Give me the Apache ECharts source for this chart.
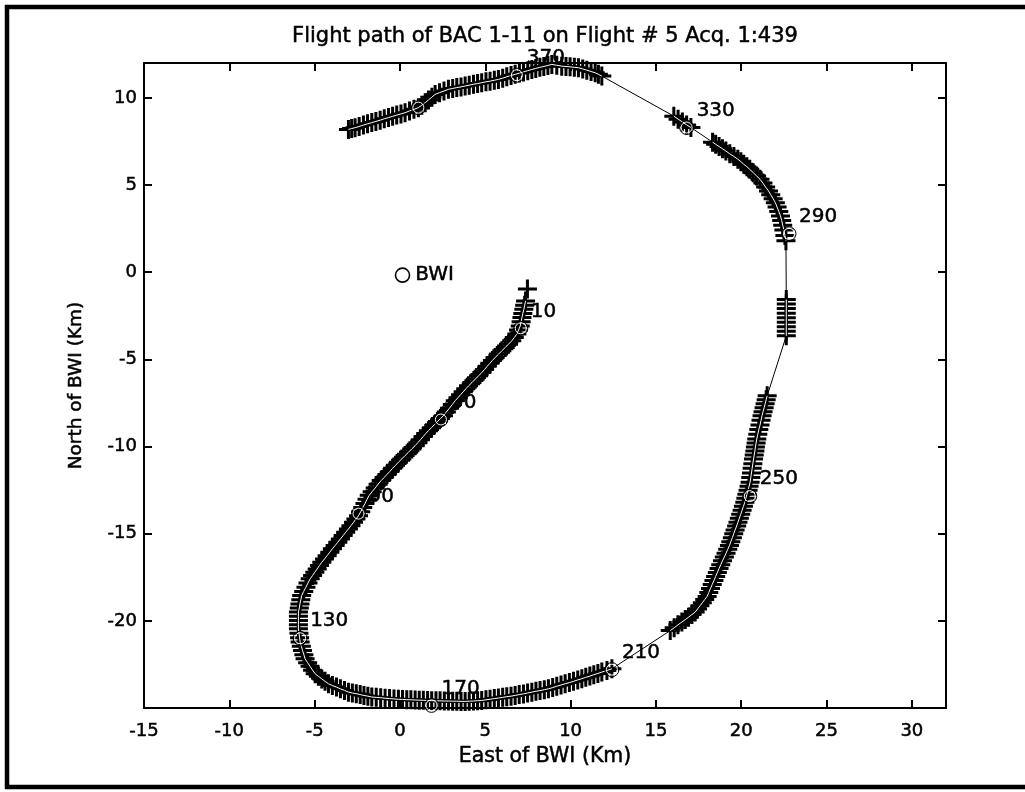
<!DOCTYPE html>
<html>
<head>
<meta charset="utf-8">
<script src="https://cdn.jsdelivr.net/npm/echarts/dist/echarts.min.js"></script>
<style>
  html, body { margin: 0; padding: 0; background: #fff; }
  #chart { width: 1025px; height: 792px; }
</style>
</head>
<body>
<div id="chart"></div>
<script>
// Aircraft track, [east km, north km] relative to BWI, in acquisition order
const track = [
  [7.47,-0.97],
  [7.36,-1.65],[7.31,-1.89],[7.26,-2.13],[7.20,-2.37],[7.15,-2.60],[7.10,-2.84],[7.05,-3.08],
  [6.95,-3.32],[6.85,-3.55],[6.70,-3.75],[6.55,-3.94],[6.36,-4.13],[6.17,-4.32],
  [5.97,-4.51],[5.78,-4.70],[5.58,-4.89],[5.42,-5.06],[5.27,-5.23],[5.11,-5.40],[4.96,-5.58],[4.80,-5.75],
  [4.61,-5.94],[4.41,-6.14],[4.22,-6.33],[4.02,-6.52],[3.86,-6.69],[3.71,-6.86],[3.55,-7.03],[3.40,-7.20],[3.24,-7.37],
  [3.07,-7.59],[2.90,-7.80],[2.72,-8.02],[2.55,-8.23],[2.37,-8.40],[2.20,-8.57],[2.02,-8.75],[1.85,-8.92],[1.67,-9.09],
  [1.51,-9.26],[1.36,-9.43],[1.20,-9.61],[1.05,-9.78],[0.89,-9.95],[0.69,-10.14],[0.50,-10.33],[0.30,-10.52],[0.11,-10.71],[-0.09,-10.90],
  [-0.26,-11.08],[-0.43,-11.25],[-0.59,-11.43],[-0.76,-11.60],[-0.93,-11.78],[-1.10,-11.95],
  [-1.28,-12.16],[-1.45,-12.38],[-1.63,-12.59],[-1.80,-12.80],
  [-1.93,-13.03],[-2.05,-13.27],[-2.18,-13.50],[-2.30,-13.74],[-2.43,-13.97],
  [-2.58,-14.16],[-2.72,-14.35],[-2.87,-14.54],[-3.02,-14.73],
  [-3.18,-14.92],[-3.33,-15.11],[-3.49,-15.30],[-3.64,-15.49],[-3.80,-15.68],
  [-3.96,-15.87],[-4.11,-16.06],[-4.27,-16.26],[-4.42,-16.45],[-4.58,-16.64],
  [-4.72,-16.83],[-4.85,-17.02],[-4.99,-17.21],[-5.12,-17.40],[-5.26,-17.59],
  [-5.39,-17.83],[-5.51,-18.07],[-5.64,-18.31],[-5.76,-18.55],
  [-5.81,-18.79],[-5.86,-19.03],[-5.90,-19.26],[-5.95,-19.50],
  [-5.95,-19.74],[-5.95,-19.98],[-5.95,-20.22],[-5.95,-20.46],
  [-5.92,-20.71],[-5.88,-20.97],[-5.85,-21.22],
  [-5.78,-21.46],[-5.71,-21.70],[-5.63,-21.94],[-5.56,-22.18],
  [-5.41,-22.40],[-5.27,-22.61],[-5.12,-22.83],[-4.97,-23.04],
  [-4.78,-23.18],[-4.58,-23.33],[-4.39,-23.47],[-4.19,-23.61],
  [-3.96,-23.71],[-3.72,-23.80],[-3.49,-23.90],[-3.25,-23.99],[-3.02,-24.09],
  [-2.79,-24.14],[-2.56,-24.18],[-2.33,-24.23],[-2.11,-24.28],[-1.88,-24.32],[-1.65,-24.37],
  [-1.39,-24.39],[-1.13,-24.41],[-0.87,-24.44],[-0.61,-24.46],[-0.35,-24.48],[-0.09,-24.50],
  [0.15,-24.51],[0.40,-24.52],[0.64,-24.53],[0.89,-24.54],[1.13,-24.55],[1.37,-24.56],[1.62,-24.57],[1.86,-24.58],
  [2.11,-24.59],[2.35,-24.59],[2.60,-24.60],[2.84,-24.60],[3.09,-24.61],[3.33,-24.61],[3.58,-24.62],[3.82,-24.62],
  [4.06,-24.61],[4.31,-24.60],[4.55,-24.58],[4.79,-24.57],
  [5.04,-24.53],[5.28,-24.50],[5.53,-24.46],[5.77,-24.43],[6.02,-24.39],[6.26,-24.35],[6.51,-24.32],[6.75,-24.28],
  [6.99,-24.23],[7.24,-24.19],[7.48,-24.14],[7.73,-24.09],[7.97,-24.04],[8.21,-24.00],[8.46,-23.95],[8.70,-23.90],
  [8.95,-23.83],[9.19,-23.75],[9.44,-23.68],[9.68,-23.61],[9.93,-23.54],[10.17,-23.47],[10.42,-23.39],[10.66,-23.32],
  [10.89,-23.24],[11.13,-23.17],[11.36,-23.09],[11.60,-23.02],[11.83,-22.94],[12.13,-22.85],[12.42,-22.75],
  [15.84,-20.56],[16.07,-20.40],[16.29,-20.23],[16.52,-20.07],
  [16.72,-19.93],[16.91,-19.79],[17.11,-19.64],[17.30,-19.50],
  [17.44,-19.32],[17.58,-19.14],[17.72,-18.96],[17.86,-18.78],[18.00,-18.60],
  [18.10,-18.37],[18.20,-18.14],[18.30,-17.91],[18.40,-17.69],[18.50,-17.46],[18.60,-17.23],[18.70,-17.00],
  [18.80,-16.78],[18.90,-16.56],[19.01,-16.34],[19.11,-16.12],[19.21,-15.90],[19.31,-15.68],
  [19.39,-15.46],[19.48,-15.23],[19.56,-15.01],[19.64,-14.79],[19.73,-14.56],[19.81,-14.34],
  [19.89,-14.11],[19.97,-13.89],[20.05,-13.66],[20.13,-13.43],[20.21,-13.20],
  [20.27,-12.97],[20.33,-12.74],[20.40,-12.51],[20.46,-12.28],[20.52,-12.05],
  [20.56,-11.78],[20.60,-11.52],[20.64,-11.25],[20.68,-10.99],[20.72,-10.72],
  [20.76,-10.49],[20.80,-10.26],[20.83,-10.03],[20.87,-9.80],[20.91,-9.57],
  [20.97,-9.30],[21.03,-9.03],[21.10,-8.77],[21.16,-8.50],[21.22,-8.23],
  [21.28,-8.00],[21.34,-7.78],[21.40,-7.55],[21.46,-7.32],[21.52,-7.09],
  [22.64,-3.65],[22.64,-3.39],[22.64,-3.13],[22.64,-2.87],[22.64,-2.61],[22.64,-2.35],[22.64,-2.09],[22.64,-1.83],[22.64,-1.57],
  [22.62,1.80],[22.56,2.10],[22.50,2.42],
  [22.43,2.69],[22.37,2.96],[22.30,3.23],[22.20,3.48],[22.10,3.74],[22.00,3.99],
  [21.87,4.21],[21.73,4.44],[21.60,4.66],[21.43,4.88],[21.27,5.11],[21.10,5.33],
  [20.90,5.52],[20.70,5.71],[20.50,5.90],[20.33,6.05],[20.15,6.19],[19.98,6.34],[19.80,6.48],
  [19.57,6.64],[19.33,6.79],[19.10,6.95],[18.90,7.08],[18.70,7.21],[18.50,7.34],[18.32,7.46],
  [17.05,8.30],[16.80,8.45],[16.55,8.62],[16.30,8.78],[16.05,8.95],
  [11.83,11.25],[11.63,11.35],[11.44,11.44],[11.20,11.51],[10.95,11.59],[10.71,11.66],[10.46,11.73],
  [10.22,11.75],[9.97,11.78],[9.73,11.80],[9.48,11.82],[9.19,11.87],[8.90,11.92],
  [8.67,11.86],[8.43,11.80],[8.20,11.75],[7.96,11.69],[7.73,11.63],
  [7.49,11.56],[7.24,11.49],[7.00,11.42],[6.75,11.35],
  [6.51,11.28],[6.26,11.21],[6.02,11.13],[5.77,11.06],
  [5.53,11.01],[5.28,10.96],[5.04,10.92],[4.79,10.87],
  [4.55,10.82],[4.31,10.78],[4.06,10.73],[3.82,10.68],
  [3.58,10.63],[3.33,10.59],[3.09,10.54],[2.84,10.49],
  [2.58,10.39],[2.32,10.30],[2.06,10.20],[1.87,10.04],[1.67,9.88],[1.48,9.72],[1.28,9.58],[1.08,9.44],
  [0.82,9.34],[0.56,9.25],[0.30,9.15],[0.06,9.08],[-0.19,9.01],[-0.43,8.94],[-0.67,8.87],
  [-0.92,8.80],[-1.16,8.72],[-1.41,8.65],[-1.65,8.58],[-1.90,8.51],[-2.14,8.44],[-2.39,8.36],[-2.63,8.29],[-2.83,8.24],[-3.02,8.19]
];

// Every 40th acquisition, ringed and numbered along the track
const markIndex = [10, 50, 90, 130, 170, 210, 250, 290, 330, 370, 410];
const markEast  = [7.08, 2.40, -2.43, -5.85, 1.85, 12.42, 20.50, 22.80, 16.80, 6.85, 1.08];
const markNorth = [-3.22, -8.45, -13.85, -21.00, -24.85, -22.80, -12.85, 2.20, 8.30, 11.30, 9.44];
const markLabelled = [true, true, true, true, true, true, true, true, true, true, false];

// Reference station
const station = { name: 'BWI', east: 0.15, north: -0.17 };

// Axis extents and tick spacing (km)
const eastRange = [-15, 32];
const northRange = [-25, 12];
const tickStep = 5;

const titleText = 'Flight path of BAC 1-11 on Flight # 5 Acq. 1:439';
const eastName = 'East of BWI (Km)';
const northName = 'North of BWI (Km)';

const FONT = 'DejaVu Sans';
// plus-shaped marker, arms about 3 px thick at the chosen size
const plusSymbol = 'path://M-1.5,-9.5H1.5V-1.5H9.5V1.5H1.5V9.5H-1.5V1.5H-9.5V-1.5H-1.5Z';

// Split the track into continuous stretches (breaks where samples are far apart)
const runs = [];
let cur = [track[0]];
for (let i = 1; i < track.length; i++) {
  const dx = track[i][0] - track[i - 1][0];
  const dy = track[i][1] - track[i - 1][1];
  if (Math.hypot(dx, dy) > 0.6) { runs.push(cur); cur = []; }
  cur.push(track[i]);
}
runs.push(cur);

const markData = markIndex.map((k, i) => ({
  value: [markEast[i], markNorth[i]],
  name: String(k),
  label: { show: markLabelled[i] }
}));

const inkText = { color: '#000', fontFamily: FONT, textBorderColor: '#000', textBorderWidth: 0.5 };

const axisCommon = {
  type: 'value',
  interval: tickStep,
  splitLine: { show: false },
  axisLine: { onZero: false, lineStyle: { color: '#000', width: 2 } },
  axisTick: { inside: true, length: 8, lineStyle: { color: '#000', width: 2 } }
};

const chart = echarts.init(document.getElementById('chart'), null, { renderer: 'canvas' });

const series = [
  // connecting line
  {
    type: 'line', data: track, symbol: 'none', z: 2, silent: true,
    lineStyle: { color: '#000', width: 1, opacity: 1 }
  },
  // one plus per acquisition
  {
    type: 'scatter', data: track, symbol: plusSymbol, symbolSize: 19, z: 3, silent: true,
    itemStyle: { color: '#000', opacity: 1 }
  }
];
runs.forEach(r => {
  if (r.length > 1) {
    series.push({
      type: 'line', data: r, symbol: 'none', z: 4, silent: true,
      lineStyle: { color: '#fff', width: 1, opacity: 1 }
    });
  }
});
series.push(
  // index numbers (sit under the plus marks)
  {
    type: 'scatter', data: markData, symbol: 'circle', symbolSize: 13, z: 1, silent: true,
    itemStyle: { color: 'rgba(0,0,0,0)', opacity: 1 },
    label: Object.assign({
      show: true, formatter: p => p.name, position: [16.5, -10.5],
      align: 'left', verticalAlign: 'middle', fontSize: 20
    }, inkText)
  },
  // index rings
  {
    type: 'scatter', data: markData.map(d => d.value), symbol: 'circle', symbolSize: 11, z: 5, silent: true,
    itemStyle: { color: 'rgba(0,0,0,0)', borderColor: '#fff', borderWidth: 1, opacity: 1 }
  },
  {
    type: 'scatter', data: markData.map(d => d.value), symbol: 'circle', symbolSize: 14, z: 5, silent: true,
    itemStyle: { color: 'rgba(0,0,0,0)', borderColor: '#000', borderWidth: 1, opacity: 1 }
  },
  // station
  {
    type: 'scatter', data: [{ value: [station.east, station.north], name: station.name }],
    symbol: 'circle', symbolSize: 14, z: 5, silent: true,
    itemStyle: { color: 'rgba(0,0,0,0)', borderColor: '#000', borderWidth: 1.6, opacity: 1 },
    label: Object.assign({
      show: true, position: 'right', distance: 5, formatter: p => p.name, fontSize: 20
    }, inkText)
  }
);

chart.setOption({
  animation: false,
  backgroundColor: '#fff',
  grid: { left: 144, right: 79, top: 63, bottom: 84 },
  xAxis: [
    Object.assign({}, axisCommon, {
      position: 'bottom', min: eastRange[0], max: eastRange[1],
      axisLabel: Object.assign({ margin: 14, showMaxLabel: false, fontSize: 18 }, inkText),
      name: eastName, nameLocation: 'middle', nameGap: 38,
      nameTextStyle: Object.assign({ fontSize: 20.5 }, inkText)
    }),
    Object.assign({}, axisCommon, {
      position: 'top', min: eastRange[0], max: eastRange[1],
      axisLabel: { show: false }
    })
  ],
  yAxis: [
    Object.assign({}, axisCommon, {
      position: 'left', min: northRange[0], max: northRange[1],
      axisLabel: Object.assign({ margin: 7, showMinLabel: false, showMaxLabel: false, fontSize: 18 }, inkText),
      name: northName, nameLocation: 'middle', nameGap: 58,
      nameTextStyle: Object.assign({ fontSize: 18.5 }, inkText)
    }),
    Object.assign({}, axisCommon, {
      position: 'right', min: northRange[0], max: northRange[1],
      axisLabel: { show: false }
    })
  ],
  graphic: [
    {
      type: 'text', x: 545, y: 37, silent: true,
      style: {
        text: titleText, fill: '#000', font: '21px "DejaVu Sans"',
        stroke: '#000', lineWidth: 0.5,
        textAlign: 'center', textVerticalAlign: 'middle'
      }
    },
    {
      type: 'rect', silent: true,
      shape: { x: 7, y: 7, width: 1040, height: 780 },
      style: { fill: 'none', stroke: '#000', lineWidth: 4.5 }
    }
  ],
  series: series
});
</script>
</body>
</html>
